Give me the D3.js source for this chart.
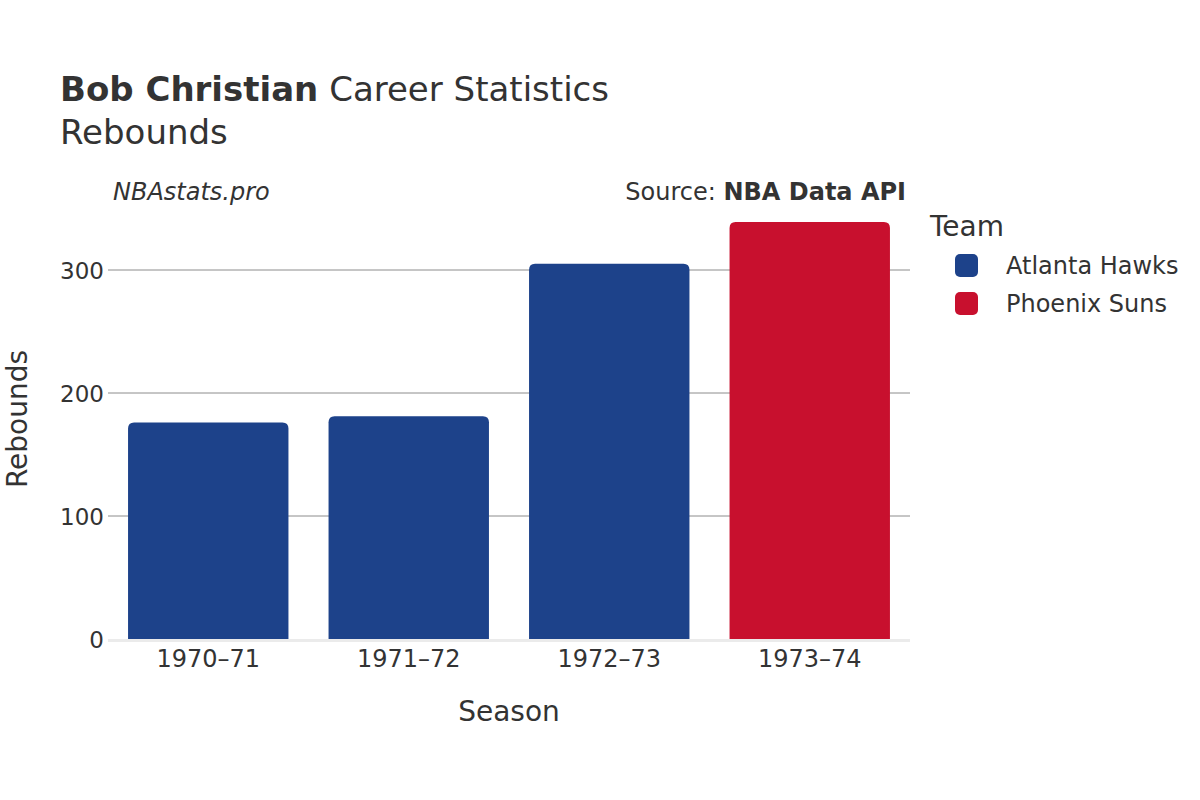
<!DOCTYPE html>
<html><head><meta charset="utf-8">
<script src="https://cdn.jsdelivr.net/npm/d3@7"></script>
<style>body{margin:0;background:#fff}svg{font-family:"DejaVu Sans",sans-serif}</style>
</head><body>
<svg id="c" width="1200" height="800"></svg>
<script>
const seasons = ["1970–71","1971–72","1972–73","1973–74"];
const rebounds = [176, 181, 305, 339];
const teams = ["Atlanta Hawks","Atlanta Hawks","Atlanta Hawks","Phoenix Suns"];
const legendTeams = ["Atlanta Hawks","Phoenix Suns"];
const teamColors = ["#1d428a","#c8102e"];
const yTicks = [0,100,200,300];

const svg = d3.select("#c");
const m = {l:108, r:910, t:210, b:639};
const x = d3.scaleBand().domain(seasons).range([m.l, m.r]).paddingInner(0.2).paddingOuter(0.1);
const y = d3.scaleLinear().domain([0, 300]).range([m.b, 270]);
const color = d3.scaleOrdinal().domain(legendTeams).range(teamColors);

// gridlines
svg.append("g").selectAll("line").data(yTicks.filter(d=>d>0)).join("line")
  .attr("x1", m.l).attr("x2", m.r).attr("y1", d=>y(d)).attr("y2", d=>y(d))
  .attr("stroke", "#8c8c8c").attr("stroke-width", 1);
// zero line
svg.append("line").attr("x1", m.l).attr("x2", m.r).attr("y1", y(0)+1.5).attr("y2", y(0)+1.5)
  .attr("stroke", "#ebebeb").attr("stroke-width", 3);

// bars with rounded top corners
const r = 6;
svg.append("g").selectAll("path").data(seasons).join("path")
  .attr("d", (s,i) => {
    const x0 = x(s), w = x.bandwidth(), y0 = y(rebounds[i]), yb = y(0);
    return `M${x0},${yb}V${y0+r}Q${x0},${y0} ${x0+r},${y0}H${x0+w-r}Q${x0+w},${y0} ${x0+w},${y0+r}V${yb}Z`;
  })
  .attr("fill", (s,i)=>color(teams[i]));

// y axis labels
const yAxis = d3.axisLeft(y).tickValues(yTicks).tickSize(0).tickPadding(0);
const yg = svg.append("g").attr("transform", `translate(${m.l-4},0)`).call(yAxis);
yg.select(".domain").remove();
yg.selectAll("text").attr("font-size", 23).attr("fill", "#333").attr("font-family","DejaVu Sans").attr("dy","0.35em");

// x axis labels
const xAxis = d3.axisBottom(x).tickSize(0).tickPadding(0);
const xg = svg.append("g").attr("transform", `translate(0,${m.b+5})`).call(xAxis);
xg.select(".domain").remove();
xg.selectAll("text").attr("font-size", 24).attr("fill", "#333").attr("font-family","DejaVu Sans").attr("dy","0.95em");

// titles
const t = svg.append("text").attr("x", 60).attr("y", 101).attr("font-size", 34).attr("fill", "#333");
t.append("tspan").attr("font-weight", "bold").text("Bob Christian");
t.append("tspan").text(" Career Statistics");
svg.append("text").attr("x", 60).attr("y", 144).attr("font-size", 34).attr("fill", "#333").text("Rebounds");

svg.append("text").attr("x", 113).attr("y", 200).attr("font-size", 24).attr("font-style","italic").attr("fill","#333").text("NBAstats.pro");
const src = svg.append("text").attr("x", 906).attr("y", 200).attr("text-anchor","end").attr("font-size", 24).attr("fill","#333");
src.append("tspan").text("Source: ");
src.append("tspan").attr("font-weight","bold").text("NBA Data API");

// axis titles
svg.append("text").attr("x", 509).attr("y", 721).attr("text-anchor","middle").attr("font-size", 28).attr("fill","#333").text("Season");
svg.append("text").attr("transform", "translate(27,419) rotate(-90)").attr("text-anchor","middle").attr("font-size", 28).attr("fill","#333").text("Rebounds");

// legend
svg.append("text").attr("x", 930).attr("y", 236).attr("font-size", 28).attr("fill","#333").text("Team");
const lg = svg.append("g").selectAll("g").data(legendTeams).join("g")
  .attr("transform", (d,i)=>`translate(955,${254 + i*38})`);
lg.append("rect").attr("width", 23).attr("height", 23).attr("rx", 5).attr("fill", d=>color(d));
lg.append("text").attr("x", 51).attr("y", 12).attr("dy","0.35em").attr("font-size", 24).attr("fill","#333").text(d=>d);
</script>
</body></html>
